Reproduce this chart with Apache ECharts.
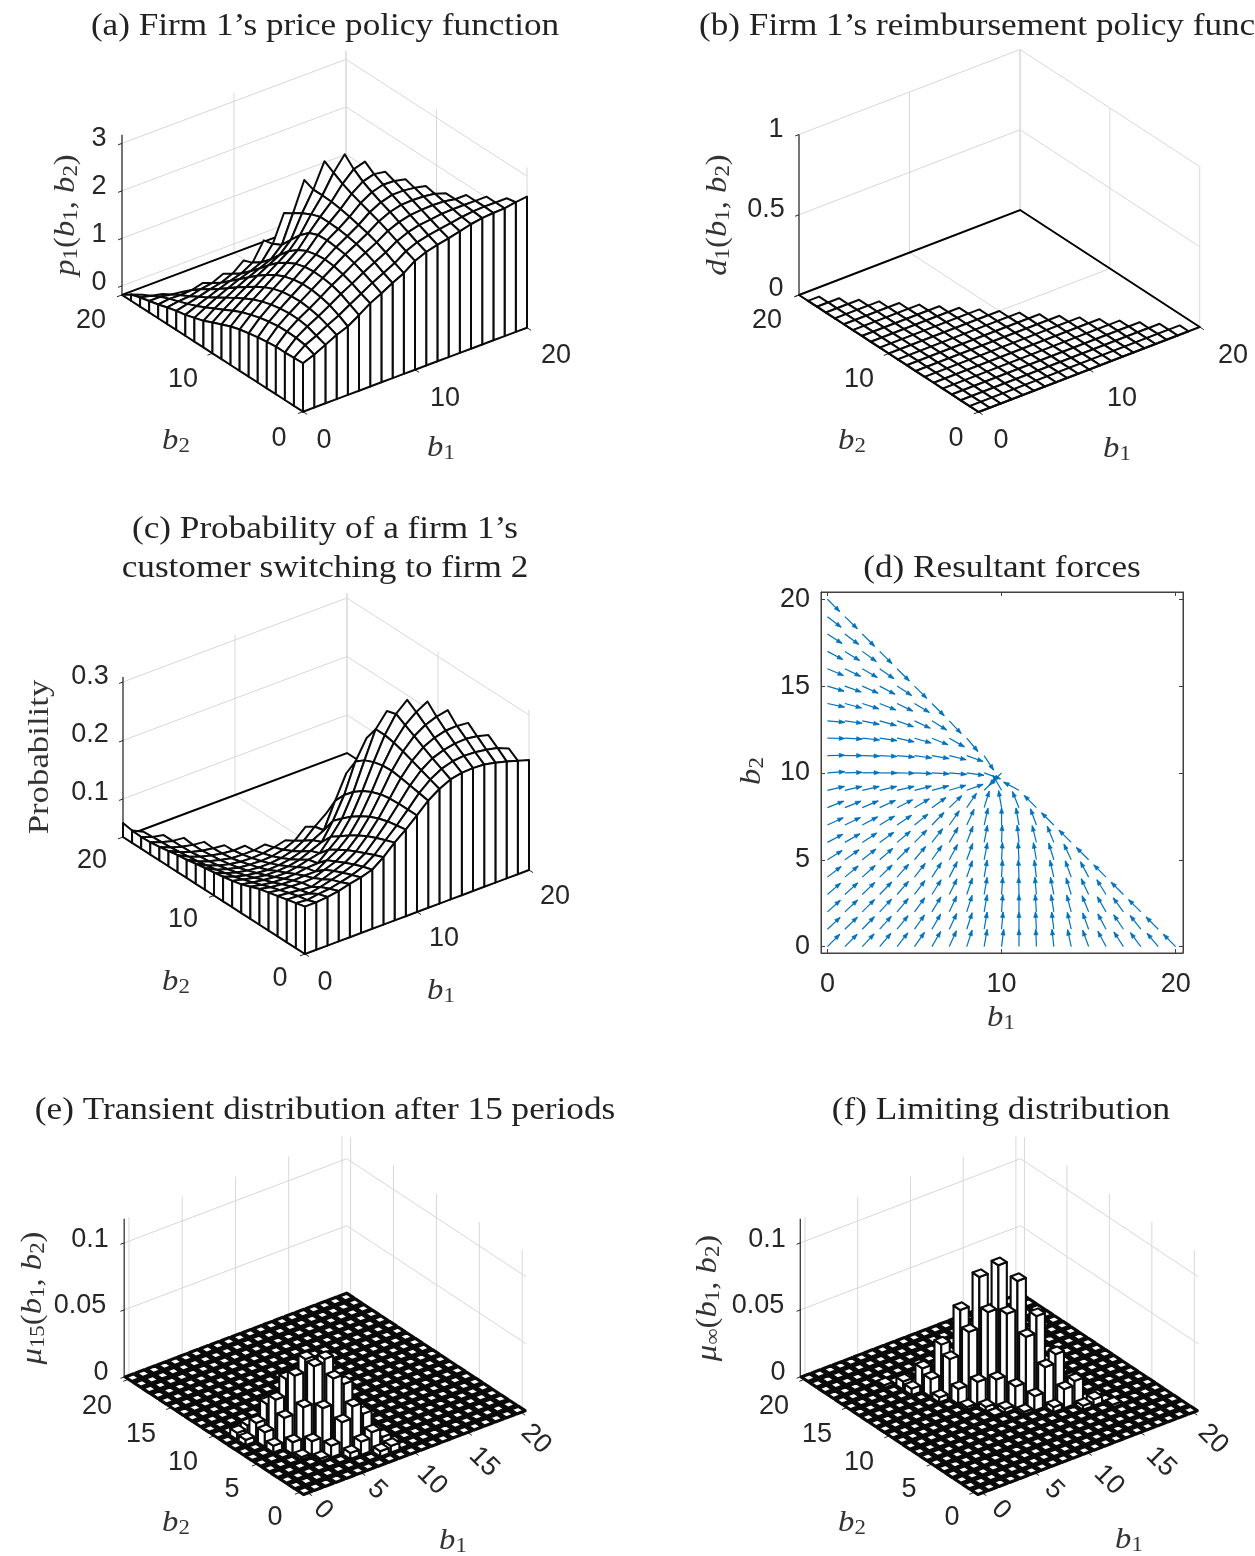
<!DOCTYPE html>
<html><head><meta charset="utf-8">
<style>html,body{margin:0;padding:0;background:#fff;overflow:hidden}#c{width:1255px;height:1556px}</style>
<script src="https://cdn.jsdelivr.net/npm/echarts@6/dist/echarts.min.js"></script>
</head><body><div id="c"></div>
<script>
// ---------- DATA: rows are b2 = 0..20, columns b1 = 0..20-b2 ----------
const priceRows = [
[.83,.92,1.04,1.16,1.25,1.40,1.56,1.68,1.81,1.93,2.10,2.20,2.26,2.31,2.37,2.43,2.47,2.49,2.50,2.54,2.57],
[.82,1.00,1.11,1.24,1.36,1.50,1.64,1.78,1.90,2.02,2.18,2.28,2.34,2.38,2.42,2.46,2.49,2.50,2.50,2.50],
[.81,1.03,1.18,1.31,1.45,1.60,1.73,1.87,2.00,2.12,2.27,2.37,2.43,2.46,2.49,2.50,2.50,2.50,2.50],
[.81,1.04,1.21,1.35,1.50,1.66,1.80,1.95,2.08,2.21,2.36,2.46,2.52,2.54,2.55,2.54,2.50,2.50],
[.79,1.03,1.21,1.37,1.53,1.69,1.85,2.01,2.14,2.28,2.44,2.55,2.61,2.62,2.61,2.58,2.50],
[.76,1.00,1.19,1.36,1.53,1.70,1.87,2.04,2.18,2.33,2.51,2.63,2.70,2.70,2.67,2.62],
[.72,.96,1.15,1.33,1.50,1.68,1.85,2.06,2.21,2.38,2.58,2.72,2.79,2.78,2.73],
[.68,.90,1.09,1.27,1.44,1.62,1.80,2.05,2.22,2.42,2.65,2.82,2.89,2.85],
[.62,.83,1.01,1.18,1.35,1.52,1.70,1.97,2.22,2.45,2.74,2.96,3.03],
[.54,.74,.91,1.07,1.23,1.39,1.55,1.80,2.15,2.46,2.85,3.15],
[.46,.64,.80,.94,1.09,1.22,1.35,1.58,2.05,2.46,2.97],
[.37,.54,.68,.81,.93,1.03,1.13,1.35,1.93,2.54],
[.31,.44,.56,.67,.77,.85,.95,1.25,1.81],
[.25,.35,.44,.53,.61,.68,.82,1.20],
[.21,.27,.33,.40,.45,.55,.74],
[.16,.20,.22,.28,.32,.43],
[.10,.13,.12,.14,.20],
[.05,.05,.01,-.02],
[.00,-.05,-.10],
[-.06,-.15],
[-.19]];
const reimbursementRows = [
[0,0,0,0,0,0,0,0,0,0,0,0,0,0,0,0,0,0,0,0,0],[0,0,0,0,0,0,0,0,0,0,0,0,0,0,0,0,0,0,0,0],
[0,0,0,0,0,0,0,0,0,0,0,0,0,0,0,0,0,0,0],[0,0,0,0,0,0,0,0,0,0,0,0,0,0,0,0,0,0],
[0,0,0,0,0,0,0,0,0,0,0,0,0,0,0,0,0],[0,0,0,0,0,0,0,0,0,0,0,0,0,0,0,0],
[0,0,0,0,0,0,0,0,0,0,0,0,0,0,0],[0,0,0,0,0,0,0,0,0,0,0,0,0,0],
[0,0,0,0,0,0,0,0,0,0,0,0,0],[0,0,0,0,0,0,0,0,0,0,0,0],[0,0,0,0,0,0,0,0,0,0,0],
[0,0,0,0,0,0,0,0,0,0],[0,0,0,0,0,0,0,0,0],[0,0,0,0,0,0,0,0],[0,0,0,0,0,0,0],
[0,0,0,0,0,0],[0,0,0,0,0],[0,0,0,0],[0,0,0],[0,0],[0]];
const switchRows = [
[.116,.116,.118,.121,.126,.130,.136,.150,.168,.183,.200,.218,.231,.240,.244,.245,.244,.240,.235,.229,.223],
[.112,.110,.113,.115,.119,.124,.131,.144,.162,.180,.200,.221,.237,.248,.254,.256,.255,.252,.248,.240],
[.108,.107,.104,.108,.113,.118,.125,.137,.156,.177,.200,.224,.243,.256,.263,.267,.268,.265,.260],
[.104,.102,.100,.098,.104,.111,.118,.130,.149,.172,.199,.227,.249,.265,.274,.279,.280,.278],
[.100,.097,.096,.095,.096,.103,.110,.122,.140,.165,.196,.229,.255,.274,.286,.293,.297],
[.096,.092,.090,.089,.090,.090,.102,.113,.130,.156,.190,.228,.260,.283,.298,.309],
[.090,.086,.083,.082,.083,.086,.087,.103,.119,.145,.182,.224,.263,.292,.309],
[.084,.080,.077,.075,.075,.078,.083,.087,.108,.132,.170,.217,.263,.287],
[.080,.075,.071,.068,.068,.069,.073,.081,.089,.118,.155,.205,.238],
[.077,.070,.065,.062,.060,.061,.064,.070,.082,.092,.135,.175],
[.074,.066,.060,.056,.054,.054,.056,.061,.071,.088,.103],
[.072,.062,.056,.051,.049,.048,.049,.053,.061,.078],
[.069,.059,.052,.047,.044,.043,.044,.047,.052],
[.066,.056,.049,.044,.040,.039,.039,.042],
[.064,.054,.047,.042,.038,.036,.037],
[.061,.052,.045,.040,.037,.035],
[.058,.050,.044,.040,.038],
[.056,.049,.044,.042],
[.055,.048,.044],
[.056,.047],
[.059]];
// resultant force direction in degrees at each grid point
const forceAngles = [
[45,45,47,50,52,55,60,66,72,80,83,90,92,96,102,110,118,123,127,130,135],
[43,44,46,48,51,55,60,65,72,80,85,90,93,97,103,110,118,124,128,135],
[42,43,45,47,50,54,59,65,72,80,86,90,94,99,105,112,120,126,135],
[41,42,44,46,49,53,58,64,71,80,86,91,95,101,107,115,122,135],
[38,40,42,44,48,52,57,63,71,80,87,92,97,103,110,118,135],
[32,35,38,41,45,50,55,62,70,79,87,93,100,107,115,135],
[28,30,33,36,40,45,52,60,69,79,88,96,104,112,135],
[25,26,28,31,34,39,46,55,65,77,90,100,110,135],
[22,22,23,25,27,31,36,44,56,73,100,112,135],
[13,13,13,13,13,14,15,17,20,45,120,152],
[4,2,1,0,-1,-2,-3,-5,-8,-20,225],
[1,0,-2,-3,-5,-8,-10,-14,-20,-57],
[-1,-3,-6,-8,-12,-16,-22,-30,-50],
[-5,-8,-12,-16,-20,-25,-32,-47],
[-12,-15,-18,-22,-26,-31,-45],
[-17,-20,-24,-28,-33,-45],
[-23,-26,-30,-35,-45],
[-28,-32,-36,-45],
[-33,-37,-45],
[-38,-44],
[-45]];
// non-zero bars as [b1, b2, probability]; all other cells of the 21x21 grid are 0
const transientBars = [
[3,4,.002],[4,3,.002],
[2,6,.005],[3,5,.0089],[4,4,.0108],[5,3,.0087],[6,2,.0045],
[1,8,.004],[2,7,.0109],[3,6,.0228],[4,5,.032],[5,4,.0325],[6,3,.0233],[7,2,.0099],[8,1,.004],
[1,9,.005],[2,8,.0136],[3,7,.0322],[4,6,.0513],[5,5,.0596],[6,4,.0517],[7,3,.032],[8,2,.014],[9,1,.005],
[2,9,.0075],[3,8,.0247],[4,7,.0446],[5,6,.0607],[6,5,.062],[7,4,.0445],[8,3,.0235],[9,2,.0075],
[4,8,.012],[5,7,.02],[6,6,.025],[7,5,.02],[8,4,.012]];
const limitingBars = [
[4,16,.002],[5,15,.006],[6,14,.017],[7,13,.036],[8,12,.063],[9,11,.0888],[10,10,.0988],[11,9,.0883],[12,8,.0633],[13,7,.0361],[14,6,.0173],[15,5,.0048],[16,4,.002],
[5,14,.0048],[6,13,.0132],[7,12,.0294],[8,11,.0508],[9,10,.0668],[10,9,.0668],[11,8,.0508],[12,7,.0294],[13,6,.0142],[14,5,.003],
[6,12,.0038],[7,11,.0113],[8,10,.0178],[9,9,.0208],[10,8,.0168],[11,7,.0108],[12,6,.0038],
[7,10,.002],[8,9,.0033],[9,8,.003],[10,7,.002],[8,8,.001]];
const priceZTicks = [0,1,2,3];
const reimbZTicks = [0,.5,1];
const switchZTicks = [.1,.2,.3];
const muZTicks = [0,.05,.1];
const wideBTicks = [0,10,20];
const fineBTicks = [0,5,10,15,20];
const forceXTicks = [0,10,20];
const forceYTicks = [0,5,10,15,20];

// ---------- VIEW / LAYOUT ----------
const SANS='"Liberation Sans"', SERIF='"Liberation Serif"';
const TICK='#262626', GRID='#d8d8d8', INK='#000';
const V = {
 a:{F:[303,411.7],e1:[11.2,-4.2],e2:[-9.05,-5.84],zs:47.5,zmin:-.19,zmax:3.18,lo:0,hi:20,zt:priceZTicks,bt:wideBTicks},
 b:{F:[981.5,412],e1:[11.2,-4.25],e2:[-9.1,-5.85],zs:160.5,zmin:0,zmax:1,lo:0,hi:20,zt:reimbZTicks,bt:wideBTicks},
 c:{F:[305,954],e1:[11.2,-4.2],e2:[-9.1,-5.85],zs:585,zmin:.035,zmax:.3085,lo:0,hi:20,zt:switchZTicks,bt:wideBTicks},
 e:{F:[303.5,1495],e1:[10.65,-4.03],e2:[-8.58,-5.65],zs:1340,zmin:0,zmax:.118,lo:-.45,hi:20.45,zt:muZTicks,bt:fineBTicks},
 f:{F:[980,1495],e1:[10.65,-4.03],e2:[-8.58,-5.65],zs:1340,zmin:0,zmax:.118,lo:-.45,hi:20.45,zt:muZTicks,bt:fineBTicks}
};
const keys=['a','b','c','e','f'];
const grids=[],xAxes=[],yAxes=[],series=[];
keys.forEach((k,n)=>{
  const v=V[k]; v.idx=n;
  grids.push({left:v.F[0]-220,top:v.F[1]-400,width:500,height:420});
  xAxes.push({type:'value',gridIndex:n,min:-220,max:280,show:false});
  yAxes.push({type:'value',gridIndex:n,min:-20,max:400,show:false});
});
function P(v,api,b1,b2,z){
  const x=b1-v.lo,y=b2-v.lo;
  return api.coord([x*v.e1[0]+y*v.e2[0], -(x*v.e1[1]+y*v.e2[1])+(z-v.zmin)*v.zs]);
}
const line=(pts,stroke,w)=>({type:'polyline',shape:{points:pts},style:{stroke,lineWidth:w,fill:null}});
const poly=(pts,w)=>({type:'polygon',shape:{points:pts},style:{fill:'#fff',stroke:'#0a0a0a',lineWidth:w,lineJoin:'round'}});

function frameSeries(v,dark){
  series.push({type:'custom',coordinateSystem:'cartesian2d',xAxisIndex:v.idx,yAxisIndex:v.idx,silent:true,animation:false,z:1,
    data:[[0,0]],renderItem:(p,api)=>{
      const c=[],lo=v.lo,hi=v.hi,z0=v.zmin,z1=v.zmax;
      v.zt.forEach(t=>c.push(line([P(v,api,lo,hi,t),P(v,api,hi,hi,t),P(v,api,hi,lo,t)],GRID,1)));
      v.bt.forEach(t=>{
        c.push(line([P(v,api,t,hi,z0),P(v,api,t,hi,z1)],GRID,1));
        c.push(line([P(v,api,hi,t,z0),P(v,api,hi,t,z1)],GRID,1));
        c.push(line([P(v,api,t,lo,z0),P(v,api,t,hi,z0)],GRID,1));
        c.push(line([P(v,api,lo,t,z0),P(v,api,hi,t,z0)],GRID,1));
      });
      if(dark) c.push(line([P(v,api,lo,hi,z0),P(v,api,hi,hi,z0),P(v,api,hi,lo,z0)],INK,2));
      c.push(line([P(v,api,lo,hi,z0),P(v,api,lo,hi,z1)],TICK,1.2));
      c.push(line([P(v,api,lo,hi,z0),P(v,api,lo,lo,z0),P(v,api,hi,lo,z0)],TICK,1.2));
      v.zt.forEach(t=>c.push(line([P(v,api,lo,hi,t),P(v,api,lo-.35,hi,t)],TICK,1)));
      v.bt.forEach(t=>{
        c.push(line([P(v,api,t,lo,z0),P(v,api,t,lo-.45,z0)],TICK,1));
        c.push(line([P(v,api,lo,t,z0),P(v,api,lo-.45,t,z0)],TICK,1));
      });
      return {type:'group',children:c};
    }});
}
function surfaceSeries(v,rows){
  const d=[],W=2;
  for(let s=38;s>=0;s--) for(let i=0;i<=s;i++){
    const j=s-i; if(i+j+2>20) continue;
    d.push([i,j,rows[j][i],rows[j][i+1],rows[j+1][i+1],rows[j+1][i],0]);
  }
  for(let i=19;i>=0;i--) d.push([i,0,rows[0][i],rows[0][i+1],0,0,1]);
  for(let j=19;j>=0;j--) d.push([0,j,rows[j][0],rows[j+1][0],0,0,2]);
  series.push({type:'custom',coordinateSystem:'cartesian2d',xAxisIndex:v.idx,yAxisIndex:v.idx,silent:true,animation:false,z:2,
    data:d,renderItem:(p,api)=>{
      const i=api.value(0),j=api.value(1),a=api.value(2),b=api.value(3),c=api.value(4),e=api.value(5),k=api.value(6),z0=v.zmin;
      if(k===0) return poly([P(v,api,i,j,a),P(v,api,i+1,j,b),P(v,api,i+1,j+1,c),P(v,api,i,j+1,e)],W);
      if(k===1) return poly([P(v,api,i,0,a),P(v,api,i+1,0,b),P(v,api,i+1,0,z0),P(v,api,i,0,z0)],W);
      return poly([P(v,api,0,j,a),P(v,api,0,j+1,b),P(v,api,0,j+1,z0),P(v,api,0,j,z0)],W);
    }});
}
function barSeries(v,bars){
  const h={}; bars.forEach(b=>h[b[0]+'_'+b[1]]=b[2]);
  const d=[],r=.4;
  for(let s=40;s>=0;s--) for(let i=0;i<=20;i++){
    const j=s-i; if(j<0||j>20) continue;
    d.push([i,j,h[i+'_'+j]||0]);
  }
  series.push({type:'custom',coordinateSystem:'cartesian2d',xAxisIndex:v.idx,yAxisIndex:v.idx,silent:true,animation:false,z:2,
    data:d,renderItem:(p,api)=>{
      const i=api.value(0),j=api.value(1),z=api.value(2),c=[],W=z>0?2.1:3.2;
      if(z>0){
        c.push(poly([P(v,api,i-r,j-r,z),P(v,api,i-r,j+r,z),P(v,api,i-r,j+r,0),P(v,api,i-r,j-r,0)],W));
        c.push(poly([P(v,api,i-r,j-r,z),P(v,api,i+r,j-r,z),P(v,api,i+r,j-r,0),P(v,api,i-r,j-r,0)],W));
      }
      c.push(poly([P(v,api,i-r,j-r,z),P(v,api,i+r,j-r,z),P(v,api,i+r,j+r,z),P(v,api,i-r,j+r,z)],W));
      return {type:'group',children:c};
    }});
}
frameSeries(V.a,true);  surfaceSeries(V.a,priceRows);
frameSeries(V.b,true);  surfaceSeries(V.b,reimbursementRows);
frameSeries(V.c,true);  surfaceSeries(V.c,switchRows);
frameSeries(V.e,false); barSeries(V.e,transientBars);
frameSeries(V.f,false); barSeries(V.f,limitingBars);

// ---------- panel (d): quiver on real axes ----------
const dG=keys.length, dLim=[-.37,20.42];
grids.push({left:821,top:592,width:362,height:361,show:true,borderColor:'#404040',borderWidth:1,backgroundColor:'#fff'});
function dAxis(kind,pos,vals,withLabels){
  return {type:'value',gridIndex:dG,position:pos,min:dLim[0],max:dLim[1],
    axisLine:{show:true,onZero:false,lineStyle:{color:'#404040',width:1}},splitLine:{show:false},
    axisTick:{show:true,inside:true,length:4,customValues:vals,lineStyle:{color:'#404040',width:1}},
    axisLabel:{show:withLabels,customValues:vals,fontFamily:SANS,fontSize:27,color:TICK,margin:kind==='x'?18:11,padding:kind==='x'?0:[4,0,0,0],hideOverlap:false,showMinLabel:true,showMaxLabel:true}};
}
xAxes.push(dAxis('x','bottom',forceXTicks,true),dAxis('x','top',forceXTicks,false));
yAxes.push(dAxis('y','left',forceYTicks,true),dAxis('y','right',forceYTicks,false));
const forceData=[];
forceAngles.forEach((row,b2)=>row.forEach((ang,b1)=>forceData.push([b1,b2,ang])));
series.push({type:'custom',coordinateSystem:'cartesian2d',xAxisIndex:dG,yAxisIndex:dG,silent:true,animation:false,z:3,
  data:forceData,encode:{x:0,y:1},renderItem:(p,api)=>{
    const x=api.value(0),y=api.value(1),a=api.value(2)*Math.PI/180;
    const t=api.coord([x,y]),q=api.coord([x+Math.cos(a),y+Math.sin(a)]);
    const s=Math.atan2(q[1]-t[1],q[0]-t[0]),L=6,o=.36;
    const h1=[q[0]-L*Math.cos(s-o),q[1]-L*Math.sin(s-o)],h2=[q[0]-L*Math.cos(s+o),q[1]-L*Math.sin(s+o)];
    return {type:'group',children:[line([t,q],'#0072BD',1.2),
      {type:'polygon',shape:{points:[h1,q,h2]},style:{fill:'#0072BD',stroke:'#0072BD',lineWidth:.6}}]};
  }});

// ---------- text ----------
const rich={
  m:{fontFamily:SERIF,fontStyle:'italic',fontSize:30,fill:'#333'},
  r:{fontFamily:SERIF,fontSize:30,fill:'#333'},
  s:{fontFamily:SERIF,fontSize:21,fill:'#333',padding:[10,0,0,0]}
};
const T=(text,x,y,rot)=>({type:'text',x,y:y+2,rotation:rot||0,silent:true,z:10,
  style:{text:String(text),fontFamily:SANS,fontSize:27,fill:TICK,align:'center',verticalAlign:'middle'}});
const M=(text,x,y,rot,sx)=>({type:'text',x,y,rotation:rot||0,scaleX:sx||1.09,silent:true,z:10,
  style:{text,rich,align:'center',verticalAlign:'middle'}});
const Title=(text,x,y,align)=>({type:'text',x,y:y+2.5,scaleX:1.1,silent:true,z:10,
  style:{text,fontFamily:SERIF,fontSize:32,fill:'#222',align:align||'center',verticalAlign:'middle',lineHeight:39}});
const B1='{m|b}{s|1}',B2='{m|b}{s|2}',ARGS='{r|(}{m|b}{s|1}{r|, }{m|b}{s|2}{r|)}',UP=Math.PI/2,DIAG=-Math.PI/4;
const texts=[
 Title("(a) Firm 1’s price policy function",325,24),
 Title("(b) Firm 1’s reimbursement policy function",699,24,'left'),
 Title("(c) Probability of a firm 1’s\ncustomer switching to firm 2",325,547),
 Title("(d) Resultant forces",1002,566),
 Title("(e) Transient distribution after 15 periods",325,1108),
 Title("(f) Limiting distribution",1001,1108),
 T(3,99,137),T(2,99,185),T(1,99,233),T(0,99,281),T(20,91,319),T(10,183,378),T(0,279,437),T(0,324,439),T(10,445,397),T(20,556,354),
 M('{m|p}{s|1}'+ARGS,66,215,UP),M(B2,176,441),M(B1,441,448),
 T(1,776,128),T(0.5,766,208),T(0,776,287),T(20,767,319),T(10,859,378),T(0,956,437),T(0,1001,439),T(10,1122,397),T(20,1233,354),
 M('{m|d}{s|1}'+ARGS,718,215,UP),M(B2,852,441),M(B1,1117,449),
 T(0.3,90,675),T(0.2,90,733),T(0.1,90,791),T(20,92,859),T(10,183,918),T(0,280,977),T(0,325,981),T(10,444,937),T(20,555,895),
 M('{r|Probability}',40,757,UP,1.16),M(B2,176,982),M(B1,441,991),
 M(B1,1001,1018),M(B2,752,771,UP),
 T(0.1,90,1238),T(0.05,80,1304),T(0,101,1371),T(20,97,1405),T(15,141,1433),T(10,183,1461),T(5,232,1488),T(0,275,1516),
 T(0,323,1508,DIAG),T(5,377,1488,DIAG),T(10,432,1478,DIAG),T(15,484,1460,DIAG),T(20,536,1437,DIAG),
 M('{m|μ}{s|15}'+ARGS,33,1298,UP),M(B2,176,1523),M(B1,453,1541),
 T(0.1,767,1238),T(0.05,758,1304),T(0,778,1371),T(20,774,1405),T(15,817,1433),T(10,859,1461),T(5,909,1488),T(0,952,1516),
 T(0,1001,1508,DIAG),T(5,1054,1488,DIAG),T(10,1109,1478,DIAG),T(15,1161,1460,DIAG),T(20,1213,1437,DIAG),
 M('{m|μ}{s|∞}'+ARGS,708,1298,UP),M(B2,852,1523),M(B1,1129,1540)
];
const chart=echarts.init(document.getElementById('c'),null,{renderer:'canvas',width:1255,height:1556});
chart.setOption({backgroundColor:'#fff',animation:false,grid:grids,xAxis:xAxes,yAxis:yAxes,series,graphic:{elements:texts}});
</script></body></html>
